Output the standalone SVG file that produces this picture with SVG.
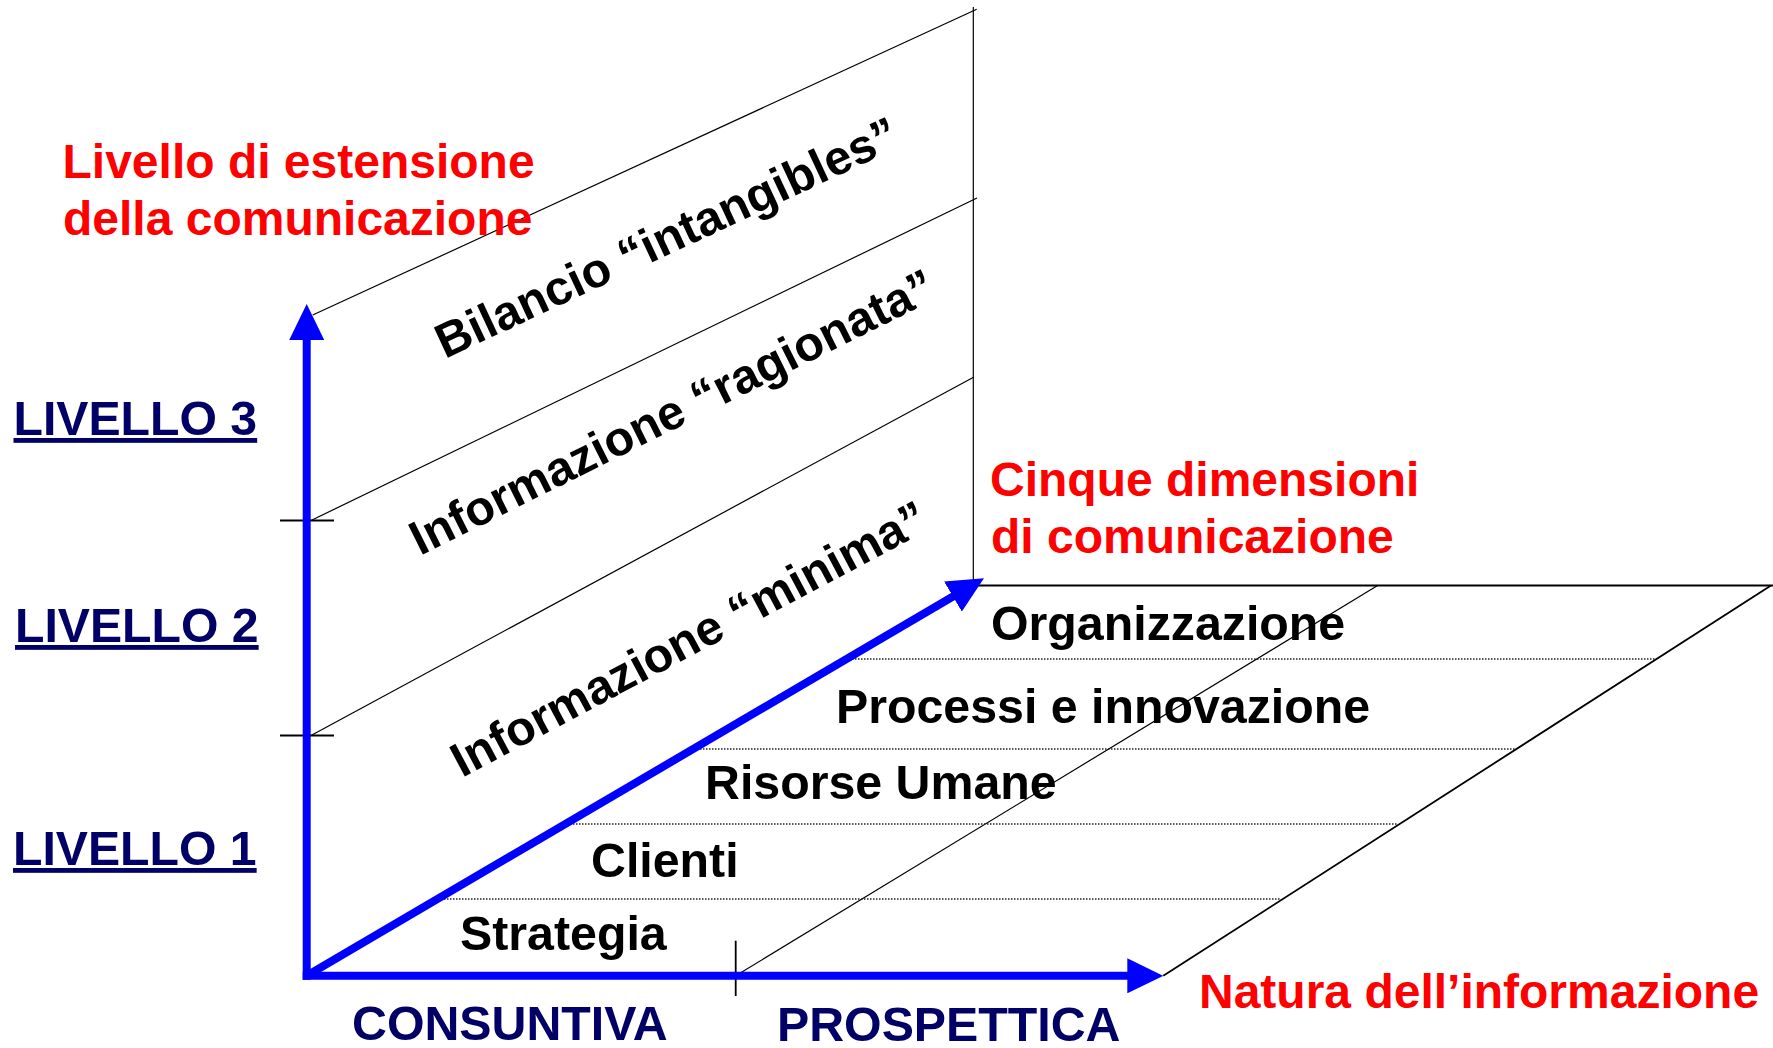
<svg xmlns="http://www.w3.org/2000/svg" width="1773" height="1048" viewBox="0 0 1773 1048">
<style>
  text { font-family: "Liberation Sans", Arial, sans-serif; font-weight: bold; font-size: 48.3px; }
  .red { fill: #FF0000; font-size: 48px; }
  .navy { fill: #000066; }
  .lvl { fill: #000066; font-size: 48.2px; text-decoration: underline; }
  .blk { fill: #000000; }
  .thin { stroke: #000000; stroke-width: 1.2; fill: none; }
  .med { stroke: #000000; stroke-width: 1.8; fill: none; }
  .dot { stroke: #222222; stroke-width: 1.5; stroke-dasharray: 1.5 1.5; fill: none; }
  .axis { stroke: #0000FF; stroke-width: 8; fill: none; marker-end: url(#ah); }
</style>
<defs>
  <marker id="ah" markerUnits="userSpaceOnUse" markerWidth="36" markerHeight="35" viewBox="0 0 36 35" refX="4" refY="17.5" orient="auto">
    <path d="M0,0 L36,17.5 L0,35 Z" fill="#0000FF"/>
  </marker>
</defs>
<rect x="0" y="0" width="1773" height="1048" fill="#FFFFFF"/>

<g id="connectors">
  <!-- wall -->
  <line class="thin" x1="312.7" y1="315" x2="976.7" y2="9.3"/>
  <line class="thin" x1="311" y1="520.5" x2="977" y2="198"/>
  <line class="thin" x1="311" y1="735.5" x2="974" y2="377"/>
  <line class="thin" x1="973.3" y1="7" x2="973.3" y2="585.5"/>
  <line class="med" x1="280" y1="520.5" x2="334" y2="520.5"/>
  <line class="med" x1="280" y1="735.5" x2="334" y2="735.5"/>
  <!-- floor -->
  <line class="med" x1="973.3" y1="585.5" x2="1773" y2="585.5"/>
  <line class="thin" x1="735.7" y1="975.8" x2="1377.6" y2="585.5"/>
  <line class="med" x1="1163.3" y1="975.8" x2="1771" y2="585.5"/>
  <line class="med" x1="735.7" y1="940.7" x2="735.7" y2="996"/>
  <line class="dot" x1="852" y1="659" x2="1655" y2="659"/>
  <line class="dot" x1="700" y1="749" x2="1515" y2="749"/>
  <line class="dot" x1="570" y1="824" x2="1398" y2="824"/>
  <line class="dot" x1="441" y1="899" x2="1281" y2="899"/>
  <!-- axes -->
  <line class="axis" x1="306.7" y1="979.8" x2="306.7" y2="336"/>
  <line class="axis" x1="302.7" y1="975.8" x2="1131.3" y2="975.8"/>
  <line class="axis" x1="306.7" y1="975.8" x2="956.4" y2="594.5"/>
</g>

<g id="title-estensione">
  <text class="red" x="62.5" y="178">Livello di estensione</text>
  <text class="red" x="63" y="235">della comunicazione</text>
</g>
<g id="title-dimensioni">
  <text class="red" x="990" y="496">Cinque dimensioni</text>
  <text class="red" x="991" y="553">di comunicazione</text>
</g>
<g id="title-natura">
  <text class="red" x="1199" y="1008">Natura dell’informazione</text>
</g>

<g id="livello-3"><text class="lvl" x="13.5" y="435">LIVELLO 3</text></g>
<g id="livello-2"><text class="lvl" x="15" y="642">LIVELLO 2</text></g>
<g id="livello-1"><text class="lvl" x="13" y="865">LIVELLO 1</text></g>

<g id="wall-bilancio">
  <text class="blk" transform="translate(445,359) rotate(-25)">Bilancio “intangibles”</text>
</g>
<g id="wall-ragionata">
  <text class="blk" transform="translate(420,556) rotate(-26.5)">Informazione “ragionata”</text>
</g>
<g id="wall-minima">
  <text class="blk" transform="translate(462,778) rotate(-28)">Informazione “minima”</text>
</g>

<g id="dim-organizzazione"><text class="blk" x="991" y="640">Organizzazione</text></g>
<g id="dim-processi"><text class="blk" x="836" y="723">Processi e innovazione</text></g>
<g id="dim-risorse"><text class="blk" x="705" y="799">Risorse Umane</text></g>
<g id="dim-clienti"><text class="blk" x="591" y="877">Clienti</text></g>
<g id="dim-strategia"><text class="blk" x="460" y="950">Strategia</text></g>

<g id="nat-consuntiva"><text class="navy" x="352" y="1040">CONSUNTIVA</text></g>
<g id="nat-prospettica"><text class="navy" x="777" y="1041">PROSPETTICA</text></g>
</svg>
